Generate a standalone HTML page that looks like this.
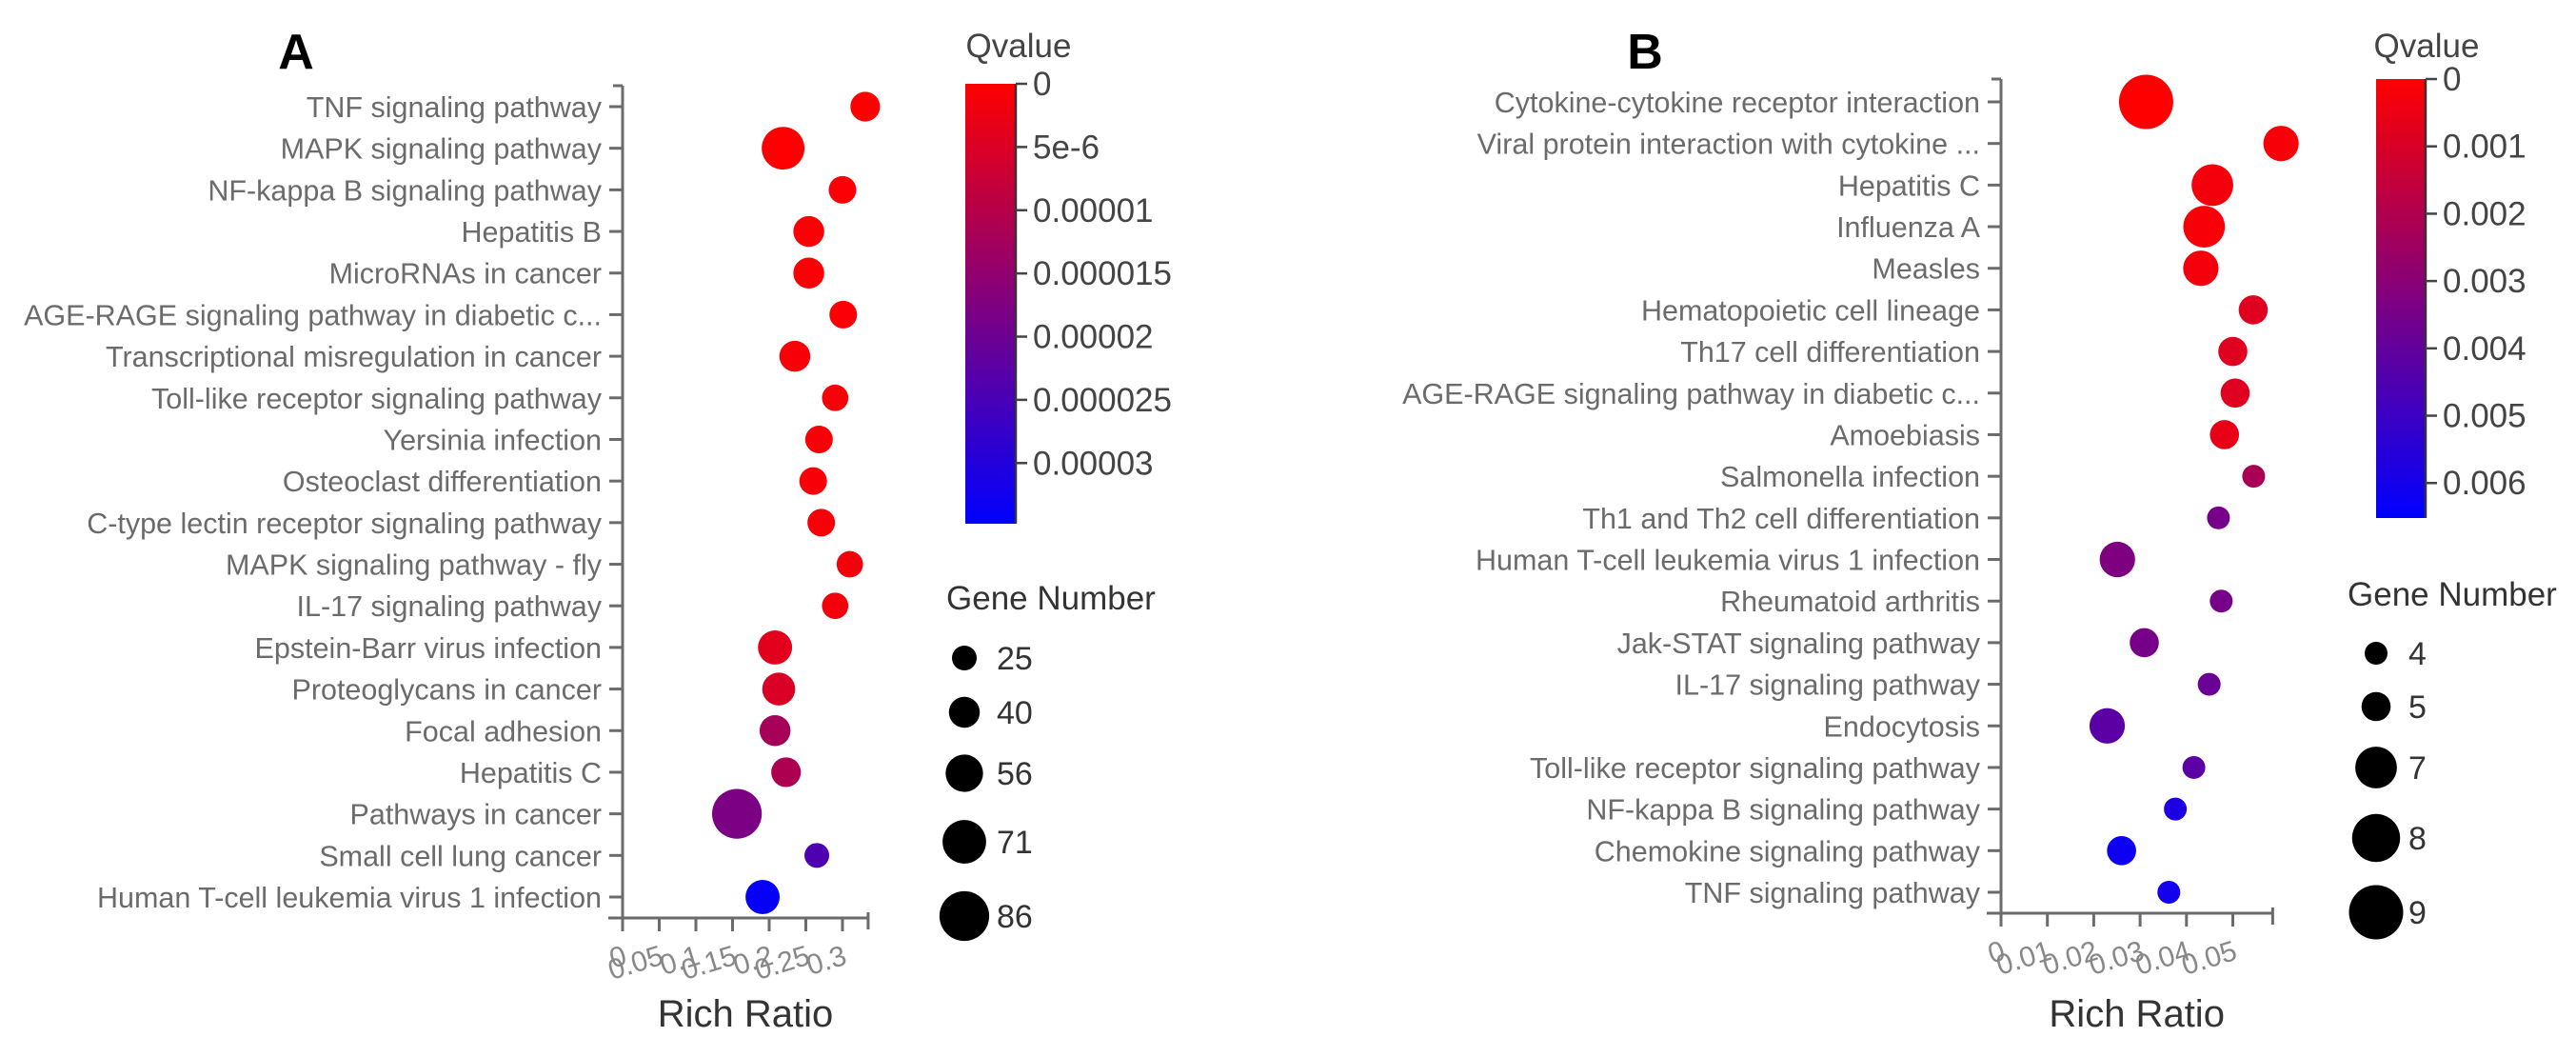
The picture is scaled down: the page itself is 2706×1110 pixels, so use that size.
<!DOCTYPE html>
<html><head><meta charset="utf-8">
<style>
html,body{margin:0;padding:0;background:#fff;}
svg{display:block;font-family:"Liberation Sans",Arial,sans-serif;}
</style></head>
<body>
<svg id="fig" width="2706" height="1110" viewBox="0 0 2706 1110" xmlns="http://www.w3.org/2000/svg">
<defs>
<linearGradient id="gradA" x1="0" y1="0" x2="0" y2="1"><stop offset="0" stop-color="#ff0000"/><stop offset="1" stop-color="#0000ff"/></linearGradient>
<linearGradient id="gradB" x1="0" y1="0" x2="0" y2="1"><stop offset="0" stop-color="#ff0000"/><stop offset="1" stop-color="#0000ff"/></linearGradient>
</defs>
<text x="311" y="72" font-size="52" font-weight="bold" text-anchor="middle" fill="#000">A</text>
<text x="1728" y="72" font-size="52" font-weight="bold" text-anchor="middle" fill="#000">B</text>
<g id="pa"></g>
<g id="pb"></g>
</svg>
<script>
// ---------- Panel A data ----------
const catsA = ["TNF signaling pathway","MAPK signaling pathway","NF-kappa B signaling pathway","Hepatitis B","MicroRNAs in cancer","AGE-RAGE signaling pathway in diabetic c...","Transcriptional misregulation in cancer","Toll-like receptor signaling pathway","Yersinia infection","Osteoclast differentiation","C-type lectin receptor signaling pathway","MAPK signaling pathway - fly","IL-17 signaling pathway","Epstein-Barr virus infection","Proteoglycans in cancer","Focal adhesion","Hepatitis C","Pathways in cancer","Small cell lung cancer","Human T-cell leukemia virus 1 infection"];
const ratioA = [0.331,0.219,0.300,0.254,0.254,0.301,0.235,0.290,0.268,0.260,0.271,0.310,0.290,0.208,0.213,0.208,0.223,0.156,0.265,0.191];
const genesA = [37,69,32,40,40,32,40,29,32,32,32,29,29,48,45,40,37,86,25,48];
const qA = [0,2e-7,5e-7,5e-7,5e-7,5e-7,1e-6,1e-6,1e-6,1e-6,1e-6,1.5e-6,1.5e-6,4e-6,5e-6,1.2e-5,1.1e-5,1.8e-5,2.4e-5,3.4e-5];
const xTicksA = [0,0.05,0.1,0.15,0.2,0.25,0.3];
const xTickLabelsA = ["0","0.05","0.1","0.15","0.2","0.25","0.3"];
const qTicksA = [0,5e-6,1e-5,1.5e-5,2e-5,2.5e-5,3e-5];
const qTickLabelsA = ["0","5e-6","0.00001","0.000015","0.00002","0.000025","0.00003"];
const legendGenesA = [25,40,56,71,86];

// ---------- Panel B data ----------
const catsB = ["Cytokine-cytokine receptor interaction","Viral protein interaction with cytokine ...","Hepatitis C","Influenza A","Measles","Hematopoietic cell lineage","Th17 cell differentiation","AGE-RAGE signaling pathway in diabetic c...","Amoebiasis","Salmonella infection","Th1 and Th2 cell differentiation","Human T-cell leukemia virus 1 infection","Rheumatoid arthritis","Jak-STAT signaling pathway","IL-17 signaling pathway","Endocytosis","Toll-like receptor signaling pathway","NF-kappa B signaling pathway","Chemokine signaling pathway","TNF signaling pathway"];
const ratioB = [0.0313,0.0604,0.0456,0.0438,0.0431,0.0544,0.0500,0.0505,0.0482,0.0545,0.0469,0.0251,0.0475,0.0309,0.0449,0.0229,0.0416,0.0376,0.0260,0.0362];
const genesB = [9,6,7,7,6,5,5,5,5,4,4,6,4,5,4,6,4,4,5,4];
const qB = [0,0.0002,0.0003,0.0002,0.0003,0.0008,0.0008,0.0008,0.0006,0.0022,0.0035,0.0033,0.0035,0.0035,0.0038,0.0042,0.0042,0.0058,0.0062,0.006];
const xTicksB = [0,0.01,0.02,0.03,0.04,0.05];
const xTickLabelsB = ["0","0.01","0.02","0.03","0.04","0.05"];
const qTicksB = [0,0.001,0.002,0.003,0.004,0.005,0.006];
const qTickLabelsB = ["0","0.001","0.002","0.003","0.004","0.005","0.006"];
const legendGenesB = [4,5,7,8,9];

const NS = "http://www.w3.org/2000/svg";
function mk(parent, tag, attrs, text){
  const e = document.createElementNS(NS, tag);
  for (const k in attrs) e.setAttribute(k, attrs[k]);
  if (text !== undefined) e.textContent = text;
  parent.appendChild(e);
  return e;
}
function qColor(q, qmax){
  let t = Math.max(0, Math.min(1, q / qmax));
  const r = Math.round(255 * (1 - t)), b = Math.round(255 * t);
  return `rgb(${r},0,${b})`;
}

function drawPanel(g, cfg){
  const {cats, ratio, genes, q, xTicks, xTickLabels, qTicks, qTickLabels, legendGenes,
         axisX, axisTop, axisY, rowTop, rowBottom, xPerUnit, xMax,
         cbX, cbW, cbTop, cbBottom, qMax, rFn, gradId, legX, legY, gnTitleX, gnTitleY, qTitleX} = cfg;
  const xS = v => axisX + v * xPerUnit;
  const yS = i => rowTop + i * (rowBottom - rowTop) / (cats.length - 1);
  const qS = v => cbTop + (v / qMax) * (cbBottom - cbTop);
  const gray = "#6b6b6b";

  const yAxis = mk(g, "line", {x1: axisX, y1: axisTop, x2: axisX, y2: axisY, stroke: gray, "stroke-width": 3});
  
  
  const topTick = mk(g, "line", {x1: axisX - 10, y1: axisTop, x2: axisX, y2: axisTop, stroke: gray, "stroke-width": 3});
  
  
  const xAxis = mk(g, "line", {x1: axisX - 15, y1: axisY, x2: xS(xMax), y2: axisY, stroke: gray, "stroke-width": 3});
  
  
  const endTick = mk(g, "line", {x1: xS(xMax), y1: axisY - 6, x2: xS(xMax), y2: axisY + 12, stroke: gray, "stroke-width": 3});
  
  

  cats.forEach((c, i) => {
    const t = mk(g, "line", {x1: axisX - 14, y1: yS(i), x2: axisX, y2: yS(i), stroke: gray, "stroke-width": 3});
    
    
    const l = mk(g, "text", {x: axisX - 22, y: yS(i) + 11, "font-size": 30.5, fill: gray, "text-anchor": "end"}, c);
    
    
  });

  xTicks.forEach((v, i) => {
    const t = mk(g, "line", {x1: xS(v), y1: axisY, x2: xS(v), y2: axisY + 14, stroke: gray, "stroke-width": 3});
    
    
    const l = mk(g, "text", {x: 0, y: 0, "font-size": 30, fill: "#888", "text-anchor": "end",
      transform: `translate(${xS(v) + 6},${axisY + 48}) rotate(-17)`}, xTickLabels[i]);
    
    
  });

  const xt = mk(g, "text", {x: (axisX + xS(xMax)) / 2 + 0, y: 1078, "font-size": 40, fill: "#333", "text-anchor": "middle"}, "Rich Ratio");
  
  

  cats.forEach((c, i) => {
    const d = mk(g, "circle", {cx: xS(ratio[i]), cy: yS(i), r: rFn(genes[i]), fill: qColor(q[i], qMax)});
    
    
  });

  const qt = mk(g, "text", {x: qTitleX, y: 60, "font-size": 35, fill: "#444", "text-anchor": "middle"}, "Qvalue");
  
  
  const cb = mk(g, "rect", {x: cbX, y: cbTop, width: cbW, height: cbBottom - cbTop, fill: `url(#${gradId})`});
  
  
  const cbl = mk(g, "line", {x1: cbX + cbW, y1: cbTop, x2: cbX + cbW, y2: cbBottom, stroke: "#333", "stroke-width": 2.5});
  
  
  qTicks.forEach((v, i) => {
    const t = mk(g, "line", {x1: cbX + cbW, y1: qS(v), x2: cbX + cbW + 12, y2: qS(v), stroke: "#444", "stroke-width": 2.5});
    
    
    const l = mk(g, "text", {x: cbX + cbW + 18, y: qS(v) + 12, "font-size": 35, fill: "#444"}, qTickLabels[i]);
    
    
  });

  const gt = mk(g, "text", {x: gnTitleX, y: gnTitleY, "font-size": 35, fill: "#333"}, "Gene Number");
  
  
  legendGenes.forEach((n, i) => {
    const d = mk(g, "circle", {cx: legX, cy: legY[i], r: rFn(n), fill: "#000"});
    
    
    const l = mk(g, "text", {x: legX + 34, y: legY[i] + 12, "font-size": 34, fill: "#333"}, String(n));
    
    
  });
}

drawPanel(document.getElementById("pa"), {
  cats: catsA, ratio: ratioA, genes: genesA, q: qA, xTicks: xTicksA, xTickLabels: xTickLabelsA,
  qTicks: qTicksA, qTickLabels: qTickLabelsA, legendGenes: legendGenesA,
  axisX: 654, axisTop: 90, axisY: 964, rowTop: 112, rowBottom: 942, xPerUnit: 770, xMax: 0.335,
  cbX: 1014, cbW: 53, cbTop: 88, cbBottom: 550, qMax: 3.48e-5,
  rFn: n => 13 + (n - 25) * 0.215, gradId: "gradA",
  legX: 1013, legY: [691, 748, 812, 884, 962], gnTitleX: 994, gnTitleY: 640, qTitleX: 1070
});
drawPanel(document.getElementById("pb"), {
  cats: catsB, ratio: ratioB, genes: genesB, q: qB, xTicks: xTicksB, xTickLabels: xTickLabelsB,
  qTicks: qTicksB, qTickLabels: qTickLabelsB, legendGenes: legendGenesB,
  axisX: 2102, axisTop: 83, axisY: 959, rowTop: 107, rowBottom: 937, xPerUnit: 4870, xMax: 0.0586,
  cbX: 2496, cbW: 52, cbTop: 83, cbBottom: 544, qMax: 0.00652,
  rFn: n => 12 + (n - 4) * 3.3, gradId: "gradB",
  legX: 2496, legY: [686, 742, 806, 880, 958], gnTitleX: 2466, gnTitleY: 636, qTitleX: 2549
});
</script>
</body></html>
